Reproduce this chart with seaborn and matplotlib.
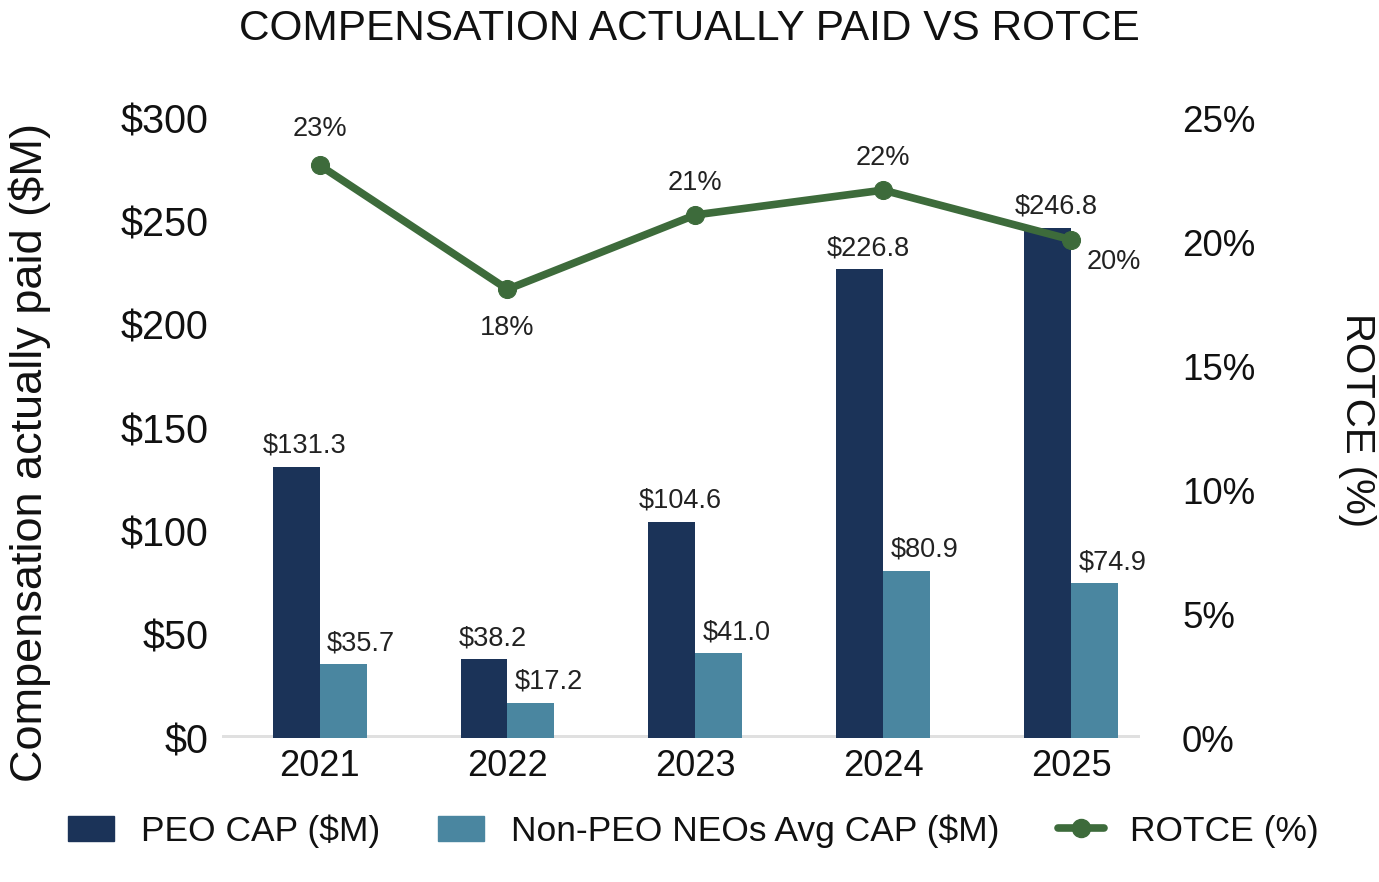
import matplotlib
matplotlib.use("Agg")
import matplotlib.pyplot as plt
from matplotlib.lines import Line2D
from matplotlib.patches import Patch
import seaborn as sns
import pandas as pd
import numpy as np

# data
years = ["2021", "2022", "2023", "2024", "2025"]
peo_cap = [131.3, 38.2, 104.6, 226.8, 246.8]
non_peo_cap = [35.7, 17.2, 41.0, 80.9, 74.9]
rotce = [23.1, 18.1, 21.1, 22.1, 20.1]

navy = "#1b3358"
teal = "#4a86a0"
green = "#3d6b3b"
ink = "#111111"

sns.set_style("white")
plt.rcParams["font.family"] = ["Liberation Sans", "DejaVu Sans"]

df = pd.DataFrame({
    "year": years * 2,
    "value": peo_cap + non_peo_cap,
    "series": ["PEO CAP ($M)"] * 5 + ["Non-PEO NEOs Avg CAP ($M)"] * 5,
})

fig = plt.figure(figsize=(13.79, 8.82), dpi=100)
ax = fig.add_axes([0.161, 0.163, 0.666, 0.703])

sns.barplot(data=df, x="year", y="value", hue="series", order=years,
            palette=[navy, teal], width=0.5, gap=0, dodge=True,
            ax=ax, legend=False, saturation=1, linewidth=0)

ax.set_ylim(0, 300)
ax.set_xlim(-0.52, 4.37)
ax.set_yticks([0, 50, 100, 150, 200, 250, 300])
ax.set_yticklabels([f"${v}" for v in [0, 50, 100, 150, 200, 250, 300]], fontsize=28.5, color=ink)
ax.tick_params(axis="y", length=0, pad=10)
ax.tick_params(axis="x", length=0, labelsize=26, pad=8, labelcolor=ink)
ax.set_xlabel("")
ax.set_ylabel("Compensation actually paid ($M)", fontsize=32.5, color=ink, va="center")
ax.yaxis.set_label_coords(-0.209, 0.461)
for s in ax.spines.values():
    s.set_visible(False)
ax.axhline(0, color="#e0e0e0", lw=5, zorder=0.5)

# bar labels
for i in range(len(years)):
    ax.text(i - 0.08, peo_cap[i] + 4, f"${peo_cap[i]:.1f}", ha="center", va="bottom",
            fontsize=19.5, color="#222222")
    ax.text(i + 0.22, non_peo_cap[i] + 4, f"${non_peo_cap[i]:.1f}", ha="center", va="bottom",
            fontsize=19.5, color="#222222")

ax2 = ax.twinx()
sns.lineplot(x=np.arange(len(years)), y=rotce, ax=ax2, color=green, lw=5.5,
             marker="o", markersize=13, markeredgecolor=green)
ax2.set_ylim(0, 25)
ax2.set_xlim(-0.52, 4.37)
ax2.set_yticks([0, 5, 10, 15, 20, 25])
ax2.set_yticklabels([f"{v}%" for v in [0, 5, 10, 15, 20, 25]], fontsize=26.5, color=ink)
ax2.tick_params(axis="y", length=0, pad=30)
ax2.set_ylabel("ROTCE (%)", fontsize=29, rotation=-90, color=ink, va="center")
ax2.yaxis.set_label_coords(1.236, 0.513)
for s in ax2.spines.values():
    s.set_visible(False)

offsets = [(0, 1.45, "center"), (0, -1.55, "center"), (0, 1.3, "center"),
           (0, 1.3, "center"), (0.23, -0.9, "center")]
for i, (dx, dy, ha) in enumerate(offsets):
    ax2.text(i + dx, rotce[i] + dy, f"{rotce[i]:.0f}%", ha=ha, va="center",
             fontsize=19.5, color="#222222", clip_on=False)

fig.suptitle("COMPENSATION ACTUALLY PAID VS ROTCE", fontsize=30.5, y=0.99, color=ink)

handles = [
    Patch(color=navy, label="PEO CAP ($M)"),
    Patch(color=teal, label="Non-PEO NEOs Avg CAP ($M)"),
    Line2D([0], [0], color=green, lw=5.5, marker="o", markersize=13, label="ROTCE (%)"),
]
fig.legend(handles=handles, loc="center", bbox_to_anchor=(0.503, 0.058), ncol=3,
           frameon=False, fontsize=25.5, columnspacing=1.65, handlelength=1.3,
           handletextpad=0.75, labelcolor=ink)

fig.savefig("out.png", dpi=100)
